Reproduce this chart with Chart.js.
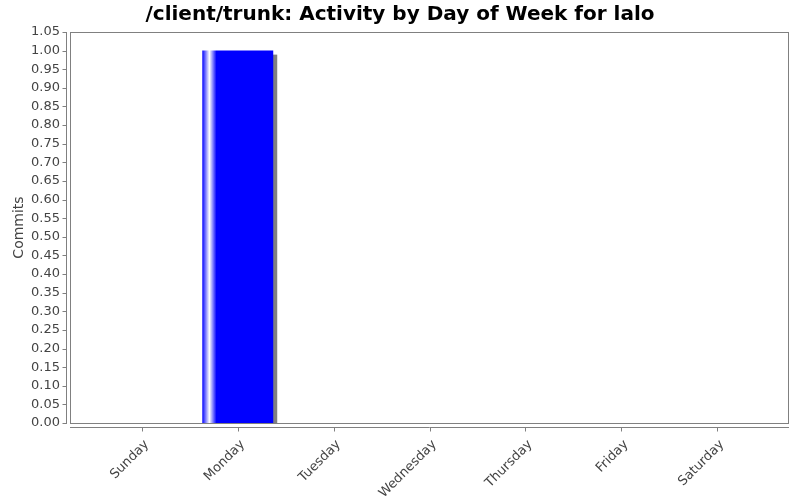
<!DOCTYPE html>
<html>
<head>
<meta charset="utf-8">
<title>Activity by Day of Week</title>
<script src="https://cdn.jsdelivr.net/npm/chart.js@4/dist/chart.umd.min.js"></script>
<style>
  html, body { margin: 0; padding: 0; background: #fff; }
  #wrap { width: 800px; height: 500px; }
</style>
</head>
<body>
<div id="wrap"><canvas id="myChart"></canvas></div>
<script>
// datos
const dias = ['Sunday', 'Monday', 'Tuesday', 'Wednesday', 'Thursday', 'Friday', 'Saturday']
const commits = [0, 1, 0, 0, 0, 0, 0]
const yTicks = [0.00, 0.05, 0.10, 0.15, 0.20, 0.25, 0.30, 0.35, 0.40, 0.45, 0.50,
  0.55, 0.60, 0.65, 0.70, 0.75, 0.80, 0.85, 0.90, 0.95, 1.00, 1.05]

const gris = '#808080'
const texto = '#444444'

// borde del grafico, lineas de ejes y sombra de las barras (estilo JFreeChart)
const marco = {
  id: 'marco',
  beforeDatasetsDraw(chart) {
    const { ctx, chartArea: a } = chart
    ctx.save()
    ctx.strokeStyle = gris
    ctx.lineWidth = 1
    ctx.strokeRect(a.left + 0.5, a.top + 0.5, a.right - a.left - 1, a.bottom - a.top)

    // eje y
    const ax = a.left - 3.5
    ctx.beginPath()
    ctx.moveTo(ax, a.top)
    ctx.lineTo(ax, a.bottom + 1)
    chart.scales.y.ticks.forEach(t => {
      const py = Math.round(chart.scales.y.getPixelForValue(t.value)) + 0.5
      ctx.moveTo(ax - 4, py)
      ctx.lineTo(ax, py)
    })
    // eje x
    const ay = a.bottom + 4.5
    ctx.moveTo(a.left, ay)
    ctx.lineTo(a.right, ay)
    chart.scales.x.ticks.forEach(t => {
      const px = Math.round(chart.scales.x.getPixelForValue(t.value)) + 0.5
      ctx.moveTo(px, ay)
      ctx.lineTo(px, ay + 4)
    })
    ctx.stroke()

    // sombra y degradado de cada barra
    chart.getDatasetMeta(0).data.forEach(bar => {
      const izq = bar.x - bar.width / 2
      const alto = bar.base - bar.y
      if (alto <= 0) return
      ctx.fillStyle = gris
      ctx.fillRect(izq + 4, bar.y + 4, bar.width, alto - 4)
      const g = ctx.createLinearGradient(izq, 0, izq + bar.width, 0)
      g.addColorStop(0, '#0303ff')
      g.addColorStop(0.10, '#ffffff')
      g.addColorStop(0.20, '#0000ff')
      g.addColorStop(1, '#0000ff')
      bar.options.backgroundColor = g
    })
    ctx.restore()
  }
}

const ctx = document.getElementById('myChart')
const myChart = new Chart(ctx, {
  type: 'bar',
  data: {
    datasets: [{
      data: commits.map((v, i) => ({ x: i, y: v })),
      backgroundColor: '#0000ff',
      borderWidth: 0,
      categoryPercentage: 1,
      barPercentage: 0.74
    }]
  },
  options: {
    responsive: true,
    maintainAspectRatio: false,
    animation: false,
    layout: { padding: 0 },
    plugins: {
      legend: { display: false },
      tooltip: { enabled: false },
      title: {
        display: true,
        text: '/client/trunk: Activity by Day of Week for lalo',
        color: '#000',
        font: { family: 'DejaVu Sans', size: 20, weight: 'bold' },
        padding: { top: 3, bottom: 5 }
      }
    },
    scales: {
      x: {
        type: 'linear',
        min: -0.75,
        max: 6.75,
        offset: false,
        grid: { display: false, drawTicks: false },
        border: { display: false },
        afterBuildTicks(scale) {
          scale.ticks = dias.map((d, i) => ({ value: i }))
        },
        afterFit(scale) { scale.height = 77 },
        ticks: {
          autoSkip: false,
          minRotation: 45,
          maxRotation: 45,
          padding: 14,
          labelOffset: 5,
          color: texto,
          font: { family: 'DejaVu Sans', size: 13 },
          callback: v => dias[v]
        }
      },
      y: {
        min: 0,
        max: 1.05,
        grid: { display: false, drawTicks: false },
        border: { display: false },
        afterBuildTicks(scale) {
          scale.ticks = yTicks.map(v => ({ value: v }))
        },
        afterFit(scale) { scale.width = 70 },
        ticks: {
          padding: 10,
          color: texto,
          font: { family: 'DejaVu Sans', size: 13 },
          callback: v => v.toFixed(2)
        },
        title: {
          display: true,
          text: 'Commits',
          color: texto,
          font: { family: 'DejaVu Sans', size: 14 },
          padding: { top: 11, bottom: 0 }
        }
      },
      // margen derecho vacio
      derecha: {
        position: 'right',
        display: true,
        grid: { display: false, drawTicks: false },
        border: { display: false },
        ticks: { display: false },
        afterFit(scale) { scale.width = 11 }
      }
    }
  },
  plugins: [marco]
})
</script>
</body>
</html>
